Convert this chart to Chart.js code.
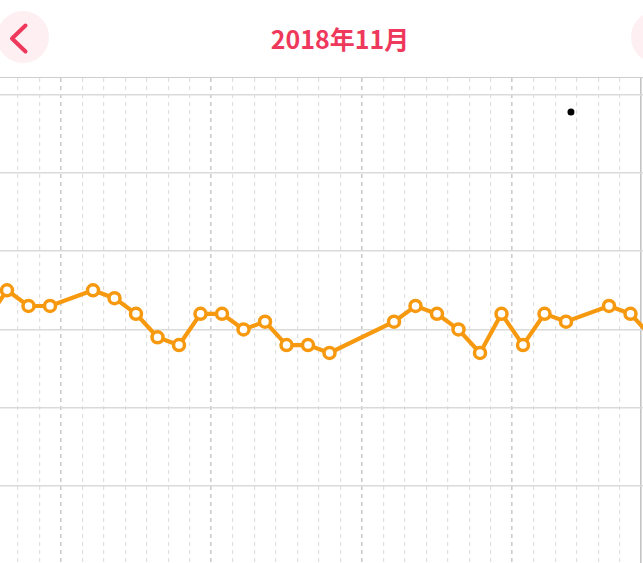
<!DOCTYPE html>
<html>
<head>
<meta charset="utf-8">
<script src="https://cdn.jsdelivr.net/npm/chart.js@4/dist/chart.umd.min.js"></script>
<style>
  html, body { margin: 0; padding: 0; background: #fff; overflow: hidden; }
  body { width: 643px; height: 563px; position: relative; font-family: "Noto Sans CJK SC", "Noto Sans", sans-serif; }
  .header { position: absolute; left: 0; top: 0; width: 643px; height: 77px; border-bottom: 1px solid #cdcdcd; overflow: hidden; }
  .circle { position: absolute; width: 52px; height: 52px; border-radius: 50%; background: #fdeff2; top: 11px; }
  .circle.left { left: -3px; }
  .circle.right { left: 631px; }
  .chev { position: absolute; left: 0; top: 0; }
  .title { position: absolute; left: 0; width: 680px; top: 19px; text-align: center; font-size: 25px; font-weight: 700; color: #ee385c; line-height: 38px; }
  .wrap { position: absolute; left: 0; top: 78px; width: 643px; height: 485px; }
</style>
</head>
<body>
<div class="header">
  <div class="circle left"></div>
  <div class="circle right"></div>
  <svg class="chev" width="60" height="77">
    <polyline points="25.5,25.5 12,38.5 25.5,51.5" fill="none" stroke="#ee385c" stroke-width="4" stroke-linecap="round" stroke-linejoin="round"/>
  </svg>
  <div class="title">2018年11月</div>
</div>
<div class="wrap"><canvas id="bbt-chart"></canvas></div>

<script>
// ─── Data ──────────────────────────────────────────────────────────────

// visible window: last day of Oct, all of Nov, first day of Dec
const dates = [
  '2018-10-31',
  '2018-11-01', '2018-11-02', '2018-11-03', '2018-11-04', '2018-11-05',
  '2018-11-06', '2018-11-07', '2018-11-08', '2018-11-09', '2018-11-10',
  '2018-11-11', '2018-11-12', '2018-11-13', '2018-11-14', '2018-11-15',
  '2018-11-16', '2018-11-17', '2018-11-18', '2018-11-19', '2018-11-20',
  '2018-11-21', '2018-11-22', '2018-11-23', '2018-11-24', '2018-11-25',
  '2018-11-26', '2018-11-27', '2018-11-28', '2018-11-29', '2018-11-30',
  '2018-12-01',
];

const temps = [
  36.51,
  36.55, 36.53, 36.53, null, 36.55,
  36.54, 36.52, 36.49, 36.48, 36.52,
  36.52, 36.50, 36.51, 36.48, 36.48,
  36.47, null, null, 36.51, 36.53,
  36.52, 36.50, 36.47, 36.52, 36.48,
  36.52, 36.51, null, 36.53, 36.52,
  36.49,
];

const yTicks = [36.3, 36.4, 36.5, 36.6, 36.7, 36.8];

// stray dot near the top right
const markX = [26.73];
const markY = [36.778];

const ORANGE = '#f7990f';

// ─── Helpers ───────────────────────────────────────────────────────────

// grid boundary k sits at the left edge of dates[k + 1]
function dayAfter(k) {
  const d = dates[k + 1];
  return d ? new Date(d + 'T00:00:00Z') : null;
}

function isWeekStart(k) {
  const d = dayAfter(k);
  return d && d.getUTCDay() === 0;
}

function isMonthStart(k) {
  const d = dayAfter(k);
  return d && d.getUTCDate() === 1;
}

// ─── Chart ─────────────────────────────────────────────────────────────

const points = dates.map((d, i) => ({ x: i - 0.5, y: temps[i] }));
const marks = markX.map((x, i) => ({ x, y: markY[i] }));
const boundaries = dates.slice(1).map((d, i) => i);

new Chart(document.getElementById('bbt-chart').getContext('2d'), {
  type: 'line',
  data: {
    datasets: [
      {
        data: points,
        borderColor: ORANGE,
        backgroundColor: '#fff',
        borderWidth: 4.2,
        pointRadius: 5.5,
        pointBorderWidth: 3.5,
        pointBorderColor: ORANGE,
        pointBackgroundColor: '#fff',
        spanGaps: true,
        tension: 0,
      },
      {
        data: marks,
        showLine: false,
        pointRadius: 3.5,
        pointBorderWidth: 0,
        pointBackgroundColor: '#000',
      },
    ],
  },
  options: {
    responsive: true,
    maintainAspectRatio: false,
    animation: false,
    events: [],
    layout: { padding: 0, autoPadding: false },
    plugins: {
      legend: { display: false },
      tooltip: { enabled: false },
    },
    scales: {
      x: {
        type: 'linear',
        min: 0.174,
        max: 0.174 + 643 / 21.5,
        afterBuildTicks: s => { s.ticks = boundaries.map(v => ({ value: v })); },
        ticks: { display: false },
        grid: {
          drawTicks: false,
          color: c => {
            const k = c.tick ? c.tick.value : 0;
            if (isMonthStart(k)) return '#c4c4c4';
            return isWeekStart(k) ? '#cccccc' : '#e0e0e0';
          },
          lineWidth: c => (c.tick && (isWeekStart(c.tick.value) || isMonthStart(c.tick.value)) ? 1.6 : 1.2),
        },
        border: {
          display: false,
          dash: c => (c.tick && isMonthStart(c.tick.value) ? [] : [4, 4]),
        },
      },
      y: {
        type: 'linear',
        min: 36.2016,
        max: 36.8213,
        afterBuildTicks: s => { s.ticks = yTicks.map(v => ({ value: v })); },
        ticks: { display: false },
        grid: { drawTicks: false, color: '#dadada', lineWidth: 1.5 },
        border: { display: false },
      },
    },
  },
});
</script>
</body>
</html>
